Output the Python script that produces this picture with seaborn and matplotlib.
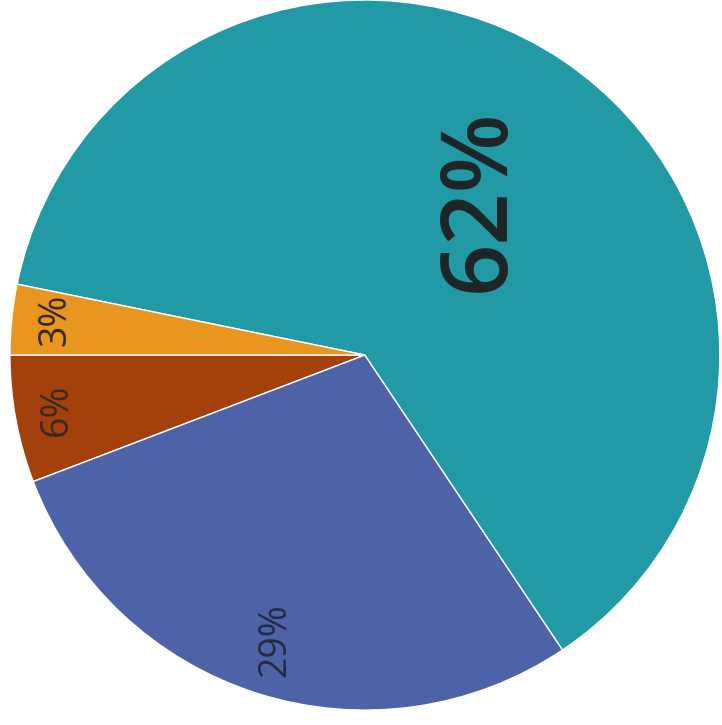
import matplotlib
matplotlib.use("Agg")
import matplotlib.pyplot as plt
import seaborn as sns

# shares, ordered counter-clockwise starting at the left horizontal
labels = ["6%", "29%", "62%", "3%"]
shares = [5.8, 28.6, 62.4, 3.2]
colors = ["#a3400c", "#4e62a7", "#219aa6", "#e8961f"]

sns.set_theme(style="white")
plt.rcParams["font.family"] = ["Open Sans", "DejaVu Sans"]

fig = plt.figure(figsize=(7.22, 7.25), dpi=100)
ax = fig.add_axes([0, 0, 1, 1])

wedges, _ = ax.pie(shares, colors=sns.color_palette(colors), startangle=180,
                   counterclock=True, radius=1.0,
                   wedgeprops=dict(edgecolor="white", linewidth=1.0))

# label positions (fraction of radius) and sizes
label_pos = [(-0.868, -0.155), (-0.254, -0.803), (0.324, 0.437), (-0.873, 0.099)]
label_size = [27, 27, 66, 27]
label_weight = ["medium", "medium", "semibold", "medium"]
label_color = ["#3a2a20", "#252a45", "#1e2526", "#3a2a18"]

for txt, (x, y), s, w, c in zip(labels, label_pos, label_size, label_weight, label_color):
    ax.text(x, y, txt, rotation=90, ha="center", va="center",
            fontsize=s, fontweight=w, color=c)

ax.set_xlim(-1.028, 1.006)
ax.set_ylim(-1.042, 1.0)
ax.set_aspect("auto")
ax.axis("off")

fig.savefig("out.png", dpi=100, facecolor="white")
